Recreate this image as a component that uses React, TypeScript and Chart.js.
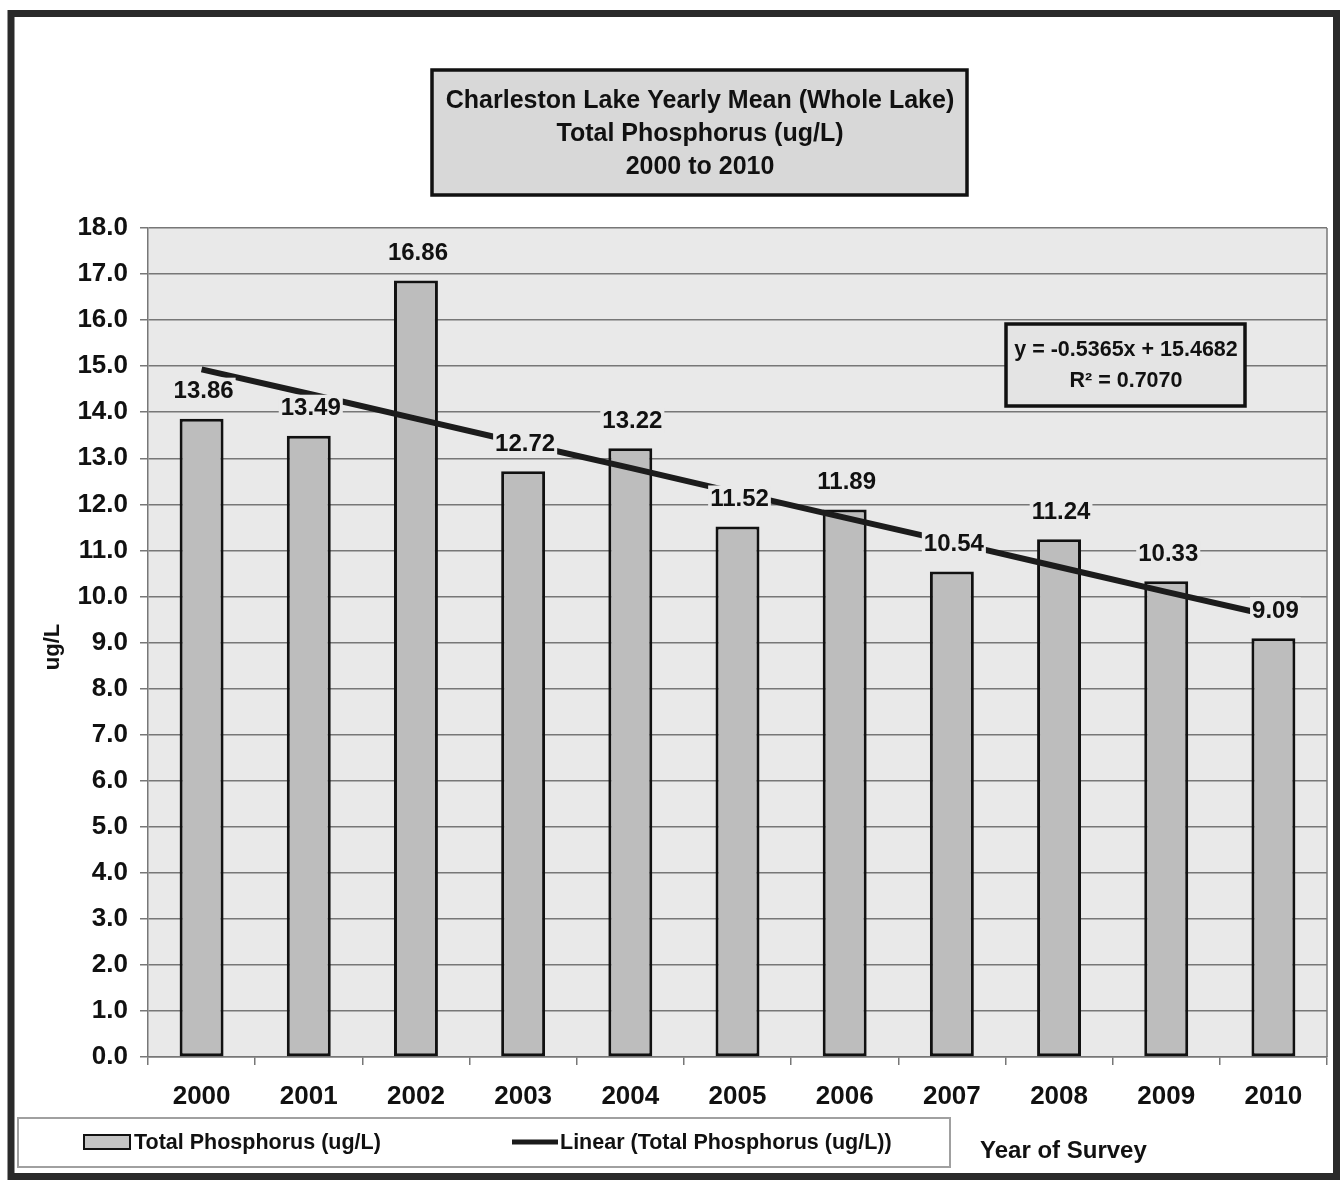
import React, { useEffect, useRef } from "react";
import { Chart, registerables } from "chart.js";

Chart.register(...registerables);

const years = ["2000", "2001", "2002", "2003", "2004", "2005", "2006", "2007", "2008", "2009", "2010"];
const phosphorus = [13.86, 13.49, 16.86, 12.72, 13.22, 11.52, 11.89, 10.54, 11.24, 10.33, 9.09];
const trend = [14.93, 14.4, 13.86, 13.32, 12.79, 12.25, 11.71, 11.18, 10.64, 10.1, 9.57];
const titleLines = ["Charleston Lake Yearly Mean (Whole Lake)", "Total Phosphorus (ug/L)", "2000 to 2010"];
const equationLines = ["y = -0.5365x + 15.4682", "R² = 0.7070"];
const barLabel = "Total Phosphorus (ug/L)";
const trendLabel = "Linear (Total Phosphorus (ug/L))";
const xTitle = "Year of Survey";
const yTitle = "ug/L";

const FONT = "'Liberation Sans', Arial, sans-serif";
const PLOT_BG = "#e9e9e9";

const decorPlugin = {
  id: "decor",
  beforeDraw(chart: any) {
    const { ctx, chartArea: a, width, height } = chart;
    ctx.save();
    ctx.fillStyle = "#ffffff";
    ctx.fillRect(0, 0, width, height);
    ctx.fillStyle = PLOT_BG;
    ctx.fillRect(a.left, a.top, a.right - a.left, a.bottom - a.top);
    ctx.restore();
  },
  afterDatasetsDraw(chart: any) {
    const { ctx, chartArea: a } = chart;
    ctx.save();
    // right border of plot
    ctx.strokeStyle = "#777";
    ctx.lineWidth = 1.5;
    ctx.beginPath();
    ctx.moveTo(a.right, a.top);
    ctx.lineTo(a.right, a.bottom);
    ctx.stroke();

    // data labels with opaque background
    const meta = chart.getDatasetMeta(0);
    ctx.font = `bold 24px ${FONT}`;
    ctx.textAlign = "center";
    ctx.textBaseline = "middle";
    meta.data.forEach((bar: any, i: number) => {
      const txt = phosphorus[i].toFixed(2);
      const w = ctx.measureText(txt).width;
      const cx = bar.x + 2;
      const cy = bar.y - 28;
      ctx.fillStyle = PLOT_BG;
      ctx.fillRect(cx - w / 2 - 2, cy - 13, w + 4, 26);
      ctx.fillStyle = "#111";
      ctx.fillText(txt, cx, cy + 1);
    });

    // title box
    ctx.fillStyle = "#d8d8d8";
    ctx.fillRect(432, 70, 535, 125);
    ctx.strokeStyle = "#111";
    ctx.lineWidth = 3.5;
    ctx.strokeRect(432, 70, 535, 125);
    ctx.fillStyle = "#111";
    ctx.font = `bold 25px ${FONT}`;
    titleLines.forEach((t, i) => ctx.fillText(t, 700, 101 + i * 33));

    // equation box
    ctx.fillStyle = "#e4e4e4";
    ctx.fillRect(1006, 324, 239, 82);
    ctx.lineWidth = 3.5;
    ctx.strokeRect(1006, 324, 239, 82);
    ctx.fillStyle = "#111";
    ctx.font = `bold 21.5px ${FONT}`;
    ctx.fillText(equationLines[0], 1126, 350);
    ctx.fillText(equationLines[1], 1126, 381);

    // legend
    ctx.strokeStyle = "#a0a0a0";
    ctx.lineWidth = 2;
    ctx.strokeRect(18, 1118, 932, 49);
    ctx.fillStyle = "#c4c4c4";
    ctx.fillRect(84, 1135, 46, 14);
    ctx.strokeStyle = "#111";
    ctx.lineWidth = 2;
    ctx.strokeRect(84, 1135, 46, 14);
    ctx.fillStyle = "#111";
    ctx.font = `bold 21.5px ${FONT}`;
    ctx.textAlign = "left";
    ctx.fillText(barLabel, 134, 1143);
    ctx.strokeStyle = "#1a1a1a";
    ctx.lineWidth = 5;
    ctx.beginPath();
    ctx.moveTo(512, 1142);
    ctx.lineTo(558, 1142);
    ctx.stroke();
    ctx.fillText(trendLabel, 560, 1143);

    // axis titles
    ctx.font = `bold 24px ${FONT}`;
    ctx.fillText(xTitle, 980, 1151);
    ctx.save();
    ctx.translate(53, 647);
    ctx.rotate(-Math.PI / 2);
    ctx.textAlign = "center";
    ctx.font = `bold 22px ${FONT}`;
    ctx.fillText(yTitle, 0, 0);
    ctx.restore();

    // outer frame
    ctx.strokeStyle = "#2a2a2a";
    ctx.lineWidth = 7;
    ctx.strokeRect(11, 13.5, 1325.5, 1163);
    ctx.restore();
  },
};

export default function App() {
  const ref = useRef<HTMLCanvasElement | null>(null);
  useEffect(() => {
    if (!ref.current) return;
    const chart = new Chart(ref.current, {
      type: "bar",
      data: {
        labels: years,
        datasets: [
          {
            type: "bar",
            label: barLabel,
            data: phosphorus,
            backgroundColor: "#bdbdbd",
            borderColor: "#111",
            borderWidth: 3,
            borderSkipped: false,
            barPercentage: 0.41,
            categoryPercentage: 1,
            order: 2,
          },
          {
            type: "line",
            label: trendLabel,
            data: trend,
            borderColor: "#1c1c1c",
            borderWidth: 6,
            pointRadius: 0,
            fill: false,
            order: 1,
          } as any,
        ],
      },
      options: {
        responsive: false,
        animation: false,
        layout: { padding: { left: 0, right: 14, top: 228, bottom: 0 } },
        plugins: { legend: { display: false }, title: { display: false }, tooltip: { enabled: false } },
        scales: {
          x: {
            afterFit: (s: any) => {
              s.height = 124;
            },
            grid: { display: true, drawOnChartArea: false, drawTicks: true, tickLength: 8, color: "#777", lineWidth: 1.5 },
            border: { display: true, color: "#777", width: 1.5 },
            ticks: { color: "#111", font: { family: FONT, size: 26, weight: "bold" }, padding: 16 },
          },
          y: {
            min: 0,
            max: 18,
            afterFit: (s: any) => {
              s.width = 148;
            },
            grid: { color: "#777", lineWidth: 1.5, tickLength: 8 },
            border: { display: true, color: "#777", width: 1.5 },
            ticks: {
              stepSize: 1,
              color: "#111",
              font: { family: FONT, size: 26, weight: "bold" },
              padding: 12,
              callback: (v: any) => Number(v).toFixed(1),
            },
          },
        },
      },
      plugins: [decorPlugin],
    });
    return () => chart.destroy();
  }, []);
  return (
    <div style={{ position: "absolute", left: 0, top: 0, width: 1341, height: 1181, background: "#fff" }}>
      <canvas ref={ref} width={1341} height={1181} style={{ display: "block", width: 1341, height: 1181 }} />
    </div>
  );
}
